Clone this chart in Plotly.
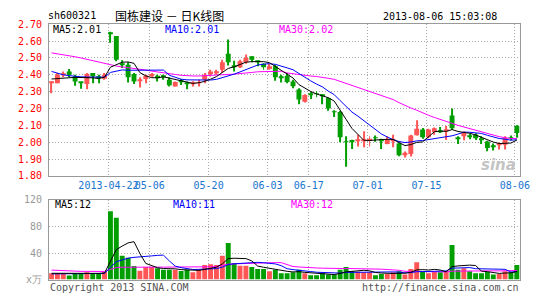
import plotly.graph_objects as go

# ---------------- data ----------------
opens = [2.352, 2.35, 2.400, 2.42, 2.39, 2.357, 2.345, 2.41, 2.387, 2.377,
         2.65, 2.63, 2.465, 2.46, 2.405, 2.365, 2.375, 2.395, 2.395, 2.392,
         2.37, 2.33, 2.362, 2.355, 2.345, 2.35, 2.37, 2.405, 2.41, 2.43,
         2.525, 2.45, 2.445, 2.475, 2.51, 2.48, 2.465, 2.435, 2.45, 2.385,
         2.395, 2.36, 2.313, 2.24, 2.285, 2.29, 2.28, 2.262, 2.182, 2.18,
         2.005, 2.013, 2.008, 2.01, 2.007, 2.027, 2.017, 1.99, 2.008, 1.992,
         1.922, 1.93, 2.042, 2.075, 2.03, 2.06, 2.066, 2.067, 2.158, 2.025,
         2.036, 2.038, 2.045, 2.023, 2.004, 1.975, 1.983, 1.985, 2.028, 2.098]
highs = [2.36, 2.41, 2.42, 2.435, 2.40, 2.357, 2.41, 2.41, 2.40, 2.41,
         2.655, 2.63, 2.487, 2.475, 2.41, 2.385, 2.40, 2.41, 2.40, 2.40,
         2.385, 2.36, 2.375, 2.36, 2.362, 2.37, 2.41, 2.43, 2.43, 2.49,
         2.61, 2.483, 2.49, 2.52, 2.51, 2.485, 2.47, 2.465, 2.46, 2.40,
         2.41, 2.37, 2.32, 2.285, 2.30, 2.303, 2.285, 2.265, 2.19, 2.185,
         2.035, 2.015, 2.045, 2.065, 2.035, 2.04, 2.02, 2.035, 2.045, 1.998,
         1.945, 2.045, 2.13, 2.085, 2.08, 2.087, 2.09, 2.098, 2.20, 2.035,
         2.064, 2.05, 2.053, 2.036, 2.008, 1.992, 1.998, 2.036, 2.04, 2.10]
lows = [2.29, 2.35, 2.385, 2.385, 2.335, 2.317, 2.315, 2.35, 2.35, 2.37,
        2.59, 2.48, 2.44, 2.355, 2.345, 2.325, 2.35, 2.385, 2.36, 2.37,
        2.33, 2.33, 2.34, 2.315, 2.33, 2.33, 2.35, 2.39, 2.40, 2.41,
        2.455, 2.42, 2.44, 2.465, 2.475, 2.45, 2.43, 2.43, 2.365, 2.355,
        2.35, 2.32, 2.225, 2.235, 2.257, 2.267, 2.225, 2.187, 2.15, 2.00,
        1.855, 1.96, 1.975, 1.97, 1.975, 2.003, 1.96, 1.988, 1.97, 1.917,
        1.91, 1.915, 2.04, 2.02, 2.023, 2.045, 2.055, 2.013, 2.074, 1.99,
        2.011, 2.017, 2.013, 1.989, 1.947, 1.951, 1.957, 1.957, 2.011, 2.026]
closes = [2.358, 2.40, 2.405, 2.40, 2.36, 2.353, 2.405, 2.392, 2.382, 2.40,
          2.645, 2.49, 2.46, 2.385, 2.36, 2.37, 2.395, 2.405, 2.38, 2.388,
          2.338, 2.357, 2.357, 2.345, 2.35, 2.354, 2.40, 2.42, 2.42, 2.475,
          2.475, 2.447, 2.48, 2.50, 2.49, 2.477, 2.445, 2.45, 2.385, 2.382,
          2.357, 2.332, 2.253, 2.28, 2.282, 2.285, 2.274, 2.20, 2.178, 2.03,
          2.0, 2.004, 2.012, 2.014, 2.02, 2.024, 2.011, 2.017, 2.014, 1.922,
          1.937, 2.04, 2.08, 2.03, 2.075, 2.083, 2.062, 2.071, 2.083, 2.021,
          2.055, 2.034, 2.023, 2.011, 1.966, 1.971, 1.988, 2.026, 2.024, 2.055]

ma5 = [2.375, 2.378, 2.38, 2.382, 2.385, 2.384, 2.385, 2.382, 2.378, 2.386,
       2.445, 2.462, 2.475, 2.476, 2.468, 2.413, 2.394, 2.383, 2.382, 2.388,
       2.381, 2.374, 2.364, 2.357, 2.349, 2.353, 2.361, 2.374, 2.389, 2.414,
       2.438, 2.447, 2.459, 2.475, 2.478, 2.479, 2.478, 2.472, 2.449, 2.428,
       2.404, 2.381, 2.342, 2.321, 2.301, 2.286, 2.275, 2.264, 2.244, 2.193,
       2.136, 2.082, 2.045, 2.012, 2.010, 2.015, 2.016, 2.017, 2.017, 1.998,
       1.980, 1.986, 1.999, 2.002, 2.032, 2.062, 2.066, 2.064, 2.075, 2.064,
       2.058, 2.053, 2.043, 2.029, 2.018, 2.001, 1.992, 1.992, 1.995, 2.013]
ma10 = [2.42, 2.41, 2.40, 2.395, 2.39, 2.388, 2.387, 2.386, 2.386, 2.386,
        2.414, 2.423, 2.429, 2.427, 2.427, 2.429, 2.428, 2.429, 2.429, 2.428,
        2.397, 2.384, 2.374, 2.370, 2.369, 2.367, 2.367, 2.369, 2.373, 2.382,
        2.395, 2.404, 2.417, 2.432, 2.446, 2.458, 2.463, 2.466, 2.462, 2.453,
        2.441, 2.430, 2.407, 2.385, 2.364, 2.345, 2.328, 2.303, 2.282, 2.247,
        2.211, 2.179, 2.155, 2.128, 2.102, 2.076, 2.049, 2.031, 2.015, 2.004,
        1.998, 2.001, 2.008, 2.010, 2.015, 2.021, 2.026, 2.031, 2.038, 2.048,
        2.060, 2.059, 2.054, 2.052, 2.041, 2.030, 2.022, 2.018, 2.012, 2.015]
ma30 = [2.530, 2.525, 2.519, 2.513, 2.507, 2.500, 2.492, 2.484, 2.476, 2.466,
        2.458, 2.452, 2.447, 2.443, 2.439, 2.434, 2.428, 2.422, 2.418, 2.414,
        2.408, 2.402, 2.397, 2.394, 2.393, 2.393, 2.394, 2.395, 2.396, 2.398,
        2.402, 2.404, 2.406, 2.410, 2.414, 2.418, 2.419, 2.421, 2.421, 2.421,
        2.411, 2.406, 2.399, 2.396, 2.393, 2.390, 2.386, 2.379, 2.373, 2.361,
        2.349, 2.338, 2.326, 2.315, 2.304, 2.293, 2.280, 2.267, 2.253, 2.235,
        2.217, 2.203, 2.190, 2.174, 2.160, 2.147, 2.134, 2.122, 2.112, 2.100,
        2.090, 2.080, 2.072, 2.063, 2.053, 2.042, 2.033, 2.027, 2.022, 2.022]

volumes = [9.5, 9.5, 9.5, 6, 9, 9, 11, 9, 9, 11.4,
           103, 93, 36, 33, 20.5, 13.3, 19, 19, 17, 15,
           15, 14.8, 13, 14.8, 11, 15.7, 22, 23, 22, 36,
           55, 25, 21, 21, 19, 16, 16, 12.4, 15, 9.5,
           9.5, 11, 15, 9.5, 6.7, 6.7, 9.5, 7.6, 7.6, 15,
           19, 13, 12, 11, 11, 6.7, 8.6, 8.6, 11, 12.4,
           7.6, 16, 26, 13, 9.5, 12.4, 11, 12.4, 52, 15,
           17, 12.4, 9.5, 9.5, 11.4, 7.6, 8.6, 12.4, 11, 22]
vma5 = [9.5, 9.5, 9.5, 9.2, 8.7, 8.6, 8.9, 8.8, 9.4, 9.9,
        28.7, 45.1, 50.5, 55.3, 57.1, 39.2, 24.4, 21.0, 17.8, 16.7,
        17.0, 16.2, 15.0, 14.5, 13.7, 13.9, 15.3, 17.3, 18.7, 23.7,
        31.6, 32.2, 31.8, 31.6, 28.2, 20.4, 18.6, 16.9, 15.7, 13.8,
        12.5, 11.5, 12.0, 10.9, 10.3, 9.8, 9.5, 8.0, 7.6, 9.3,
        11.7, 12.4, 13.3, 14.0, 13.2, 10.7, 9.9, 9.2, 9.2, 9.5,
        9.6, 11.1, 14.6, 15.0, 14.4, 15.4, 14.4, 11.7, 19.5, 20.6,
        21.5, 21.8, 21.2, 12.7, 12.0, 10.1, 9.3, 9.9, 10.2, 12.3]
vma10 = [8.6, 8.6, 8.6, 8.6, 8.6, 8.6, 8.7, 8.8, 9.0, 9.3,
         18.6, 27.0, 29.6, 32.3, 33.5, 33.9, 34.7, 35.7, 36.5, 36.9,
         28.1, 20.3, 18.0, 16.1, 15.2, 15.4, 15.7, 16.1, 16.6, 18.7,
         22.7, 23.8, 24.6, 25.2, 26.0, 26.0, 25.4, 24.3, 23.6, 21.0,
         16.4, 15.0, 14.4, 13.3, 12.1, 11.1, 10.5, 10.0, 9.3, 9.8,
         10.8, 11.0, 10.7, 10.8, 11.2, 11.2, 11.2, 11.3, 11.6, 11.3,
         10.2, 10.5, 11.9, 12.1, 11.9, 12.5, 12.8, 13.1, 17.2, 17.5,
         18.4, 18.1, 16.4, 16.1, 16.3, 15.8, 15.5, 15.5, 11.4, 12.1]
vma30 = [14.3, 13.8, 13.3, 12.9, 12.6, 12.4, 12.4, 12.3, 12.3, 12.3,
         15.3, 18.2, 18.6, 18.8, 18.8, 18.7, 18.7, 18.8, 18.8, 18.8,
         18.8, 18.7, 18.7, 18.7, 18.6, 18.7, 18.9, 19.3, 19.8, 21.6,
         23.2, 23.7, 24.1, 24.6, 24.9, 25.1, 25.3, 25.4, 25.6, 25.5,
         22.4, 19.7, 19.0, 18.2, 17.7, 17.5, 17.2, 16.8, 16.5, 16.5,
         16.6, 16.6, 16.6, 16.4, 16.4, 16.1, 15.7, 15.2, 14.8, 14.0,
         12.5, 12.2, 12.3, 12.1, 11.7, 11.6, 11.5, 11.5, 12.7, 12.9,
         13.1, 13.2, 13.0, 13.0, 13.1, 13.2, 13.1, 13.3, 13.4, 13.7]

tick_index = [10, 17, 27, 37, 44, 54, 64, 79]
tick_labels = ["2013-04-22", "05-06", "05-20", "06-03", "06-17", "07-01", "07-15", "08-06"]
price_ticks = [1.8, 1.9, 2.0, 2.1, 2.2, 2.3, 2.4, 2.5, 2.6, 2.7]
vol_ticks = [0, 40, 80, 120]
vol_tick_labels = ["x万", "40", "80", "120"]

# ---------------- styling ----------------
W, H = 545, 300
RED = "#FF5555"
GREEN = "#009E00"
MONO = "DejaVu Sans Mono"
GRID = "#A8A8A8"
BORDER = "#999999"

n = len(closes)
idx = list(range(n))
colors = [RED if c >= o else GREEN for o, c in zip(opens, closes)]
body_base = [min(o, c) for o, c in zip(opens, closes)]
body_h = [max(abs(c - o), 0.0055) for o, c in zip(opens, closes)]
wick_h = [h - l for h, l in zip(highs, lows)]

fig = go.Figure()
fig.add_trace(go.Bar(x=idx, y=wick_h, base=lows, width=1/6, marker=dict(color=colors, line=dict(width=0)),
                     xaxis="x", yaxis="y", hoverinfo="skip"))
fig.add_trace(go.Bar(x=idx, y=body_h, base=body_base, width=5/6, marker=dict(color=colors, line=dict(width=0)),
                     xaxis="x", yaxis="y", hoverinfo="skip"))
for vals, col in [(ma30, "#FF00FF"), (ma10, "#0000FF"), (ma5, "#000000")]:
    fig.add_trace(go.Scatter(x=idx, y=vals, mode="lines", line=dict(color=col, width=1),
                             xaxis="x", yaxis="y", hoverinfo="skip"))

fig.add_trace(go.Bar(x=idx, y=volumes, width=5/6, marker=dict(color=colors, line=dict(width=0)),
                     xaxis="x2", yaxis="y2", hoverinfo="skip"))
for vals, col in [(vma30, "#FF00FF"), (vma10, "#0000FF"), (vma5, "#000000")]:
    fig.add_trace(go.Scatter(x=idx, y=vals, mode="lines", line=dict(color=col, width=1),
                             xaxis="x2", yaxis="y2", hoverinfo="skip"))

xr = [-0.4167, 79.5833]
tickvals = [t - 1/3 for t in tick_index]
xdom = [50 / W, 530 / W]

common_x = dict(range=xr, domain=xdom, tickmode="array", tickvals=tickvals, showgrid=True,
                gridcolor=GRID, griddash="1px,2px", gridwidth=1, zeroline=False,
                showline=True, linecolor=BORDER, linewidth=1, mirror=True, ticks="", tickangle=0,
                fixedrange=True)
fig.update_layout(
    width=W, height=H, margin=dict(l=0, r=0, t=0, b=0),
    paper_bgcolor="white", plot_bgcolor="white", showlegend=False, barmode="overlay",
    xaxis=dict(**common_x, anchor="y", ticktext=tick_labels, showticklabels=True,
               tickfont=dict(family=MONO, size=10, color="#1874CD")),
    xaxis2=dict(**common_x, anchor="y2", showticklabels=False),
    yaxis=dict(domain=[1 - 177 / H, 1 - 19 / H], range=[1.8, 2.7], tickmode="array",
               tickvals=price_ticks, ticktext=["%.2f" % v for v in price_ticks],
               tickfont=dict(family=MONO, size=10, color="#FF0000"), showgrid=True, gridcolor=GRID,
               griddash="1px,2px", zeroline=False, showline=True, linecolor=BORDER, linewidth=1,
               mirror=True, ticks="", ticklabelstandoff=4, anchor="x"),
    yaxis2=dict(domain=[1 - 285 / H, 1 - 202 / H], range=[0, 120], tickmode="array",
                tickvals=vol_ticks, ticktext=vol_tick_labels,
                tickfont=dict(family=MONO, size=10, color="#999999"), showgrid=True, gridcolor=GRID,
                griddash="1px,2px", zeroline=False, showline=True, linecolor=BORDER, linewidth=1,
                mirror=True, ticks="", ticklabelstandoff=4, anchor="x2"),
)

def txt(x, y, s, color="#000000", size=10, anchor="left", family=MONO, **kw):
    fig.add_annotation(x=x / W, y=1 - y / H, xref="paper", yref="paper", text=s, showarrow=False,
                       xanchor=anchor, yanchor="middle", font=dict(family=family, size=size, color=color), **kw)

txt(47, 10, "sh600321")
txt(115, 10, "国栋建设 － 日K线图", size=12, family="Noto Sans CJK SC")
txt(508, 11, "2013-08-06 15:03:08", anchor="right")
txt(52, 24, "MA5:2.01")
txt(166, 24, "MA10:2.01", color="#0000FF")
txt(282, 24, "MA30:2.02", color="#FF00FF")
txt(54, 207, "MA5:12")
txt(174, 207, "MA10:11", color="#0000FF")
txt(294, 207, "MA30:12", color="#FF00FF")
txt(49, 293, "Copyright 2013 SINA.COM", color="#555555")
txt(531, 293, "http://finance.sina.com.cn", color="#555555", anchor="right")
txt(528, 166, "<b><i>sina</i></b>", color="#C4C4C4", size=15, anchor="right", family="DejaVu Sans")

fig.write_html("out.html")
